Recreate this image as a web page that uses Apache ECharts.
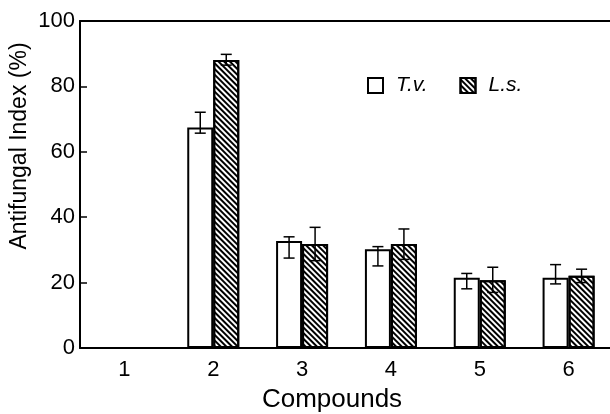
<!DOCTYPE html>
<html lang="en">
<head>
    <meta charset="UTF-8">
    <script src="https://cdn.jsdelivr.net/npm/echarts@6/dist/echarts.min.js"></script>
    <style>
        html, body { margin: 0; padding: 0; background: #fff; }
        #chart { width: 610px; height: 414px; }
    </style>
</head>
<body>
    <div id="chart"></div>
    <script>
        // compounds on the x axis
        const categories = ['1', '2', '3', '4', '5', '6'];
        const yTicks = [0, 20, 40, 60, 80, 100];

        // T.v. (open bars)
        const tvMean = [null, 67.4, 32.7, 30.2, 21.5, 21.5];
        const tvLow = [null, 65.7, 27.5, 25.1, 18.1, 19.6];
        const tvHigh = [null, 72.1, 34.0, 31.0, 22.8, 25.5];

        // L.s. (hatched bars)
        const lsMean = [null, 88.1, 31.8, 31.8, 20.7, 22.1];
        const lsLow = [null, 86.5, 26.7, 27.1, 17.0, 20.0];
        const lsHigh = [null, 89.8, 36.9, 36.4, 24.7, 24.1];

        const font = '"Liberation Sans", Arial, sans-serif';
        const barW = 26;

        const chart = echarts.init(document.getElementById('chart'));

        function errData(low, high) {
            const out = [];
            low.forEach((l, i) => {
                if (l != null) out.push([i, l, high[i]]);
            });
            return out;
        }

        function errRender(offset) {
            return function (params, api) {
                const lo = api.coord([api.value(0), api.value(1)]);
                const hi = api.coord([api.value(0), api.value(2)]);
                const x = lo[0] + offset;
                const cap = 5.5;
                const style = { stroke: '#000', lineWidth: 1.5 };
                return {
                    type: 'group',
                    children: [
                        { type: 'line', shape: { x1: x, y1: lo[1], x2: x, y2: hi[1] }, style: style },
                        { type: 'line', shape: { x1: x - cap, y1: lo[1], x2: x + cap, y2: lo[1] }, style: style },
                        { type: 'line', shape: { x1: x - cap, y1: hi[1], x2: x + cap, y2: hi[1] }, style: style }
                    ]
                };
            };
        }

        const hatch = {
            symbol: 'rect',
            symbolSize: 1,
            color: '#000',
            dashArrayX: [1, 0],
            dashArrayY: [1.6, 2],
            rotation: Math.PI / 4
        };

        chart.setOption({
            animation: false,
            backgroundColor: '#fff',
            textStyle: { fontFamily: font, color: '#000' },
            // plot runs past the right edge of the picture, so no right border shows
            grid: {
                left: 80, top: 21, width: 533, bottom: 66,
                outerBoundsMode: 'none',
                show: false
            },
            legend: {
                left: 362, top: 70,
                itemWidth: 15, itemHeight: 15, itemGap: 32,
                icon: 'rect',
                textStyle: { fontSize: 21, fontStyle: 'italic', fontFamily: font, color: '#000', padding: [0, 0, 0, 8] },
                data: ['T.v.', 'L.s.']
            },
            xAxis: [
                {
                    type: 'category',
                    data: categories,
                    axisLine: { lineStyle: { color: '#000', width: 2 } },
                    axisTick: { inside: true, length: 9, lineStyle: { color: '#000', width: 1.5 } },
                    axisLabel: { fontSize: 22, color: '#000', margin: 11, fontFamily: font },
                    splitLine: { show: false }
                },
                {
                    // top frame line only
                    type: 'category',
                    position: 'top',
                    data: categories,
                    axisLine: { lineStyle: { color: '#000', width: 2 } },
                    axisTick: { show: false },
                    axisLabel: { show: false },
                    splitLine: { show: false }
                }
            ],
            yAxis: {
                type: 'value',
                min: 0, max: 100, interval: 20,
                axisLine: { show: true, lineStyle: { color: '#000', width: 2 } },
                axisTick: { show: true, inside: true, length: 7, lineStyle: { color: '#000', width: 1.5 } },
                axisLabel: {
                    fontSize: 22, color: '#000', margin: 5, fontFamily: font,
                    formatter: v => yTicks.includes(v) ? String(v) : ''
                },
                splitLine: { show: false }
            },
            graphic: [
                {
                    type: 'text', x: 20, y: 146, rotation: Math.PI / 2,
                    style: {
                        text: 'Antifungal Index (%)', fontSize: 23, fontFamily: font,
                        fill: '#000', align: 'center', verticalAlign: 'middle'
                    }
                },
                {
                    type: 'text', x: 332, y: 400,
                    style: {
                        text: 'Compounds', fontSize: 26, fontFamily: font,
                        fill: '#000', align: 'center', verticalAlign: 'middle'
                    }
                }
            ],
            series: [
                {
                    name: 'T.v.', type: 'bar', data: tvMean,
                    barWidth: barW, barGap: '0%',
                    itemStyle: { color: '#fff', borderColor: '#000', borderWidth: 2 }
                },
                {
                    name: 'L.s.', type: 'bar', data: lsMean,
                    barWidth: barW, barGap: '0%',
                    itemStyle: { color: '#fff', borderColor: '#000', borderWidth: 2, decal: hatch }
                },
                {
                    type: 'custom', data: errData(tvLow, tvHigh),
                    renderItem: errRender(-barW / 2), z: 5, silent: true
                },
                {
                    type: 'custom', data: errData(lsLow, lsHigh),
                    renderItem: errRender(barW / 2), z: 5, silent: true
                }
            ]
        });
    </script>
</body>
</html>
